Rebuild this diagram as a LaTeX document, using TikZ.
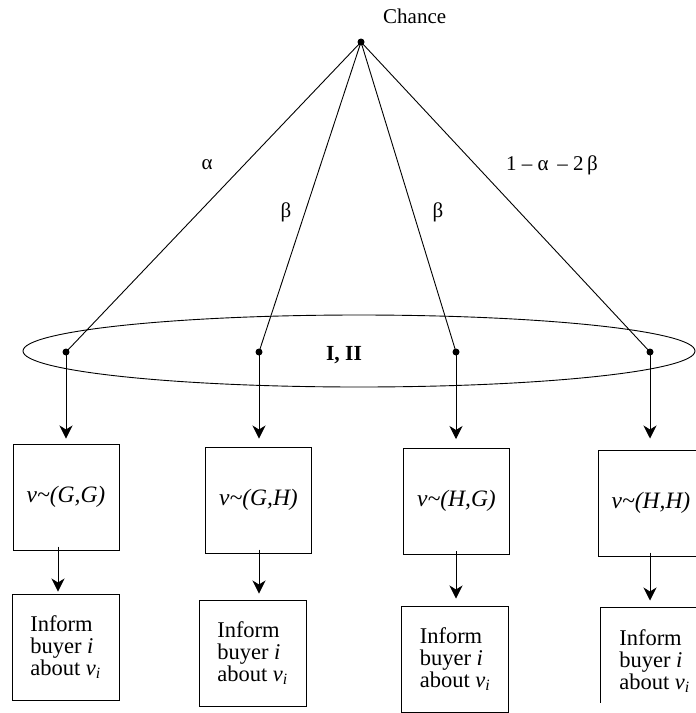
\documentclass[tikz,border=0pt]{standalone}
\usepackage{fontspec}
\setmainfont{Liberation Serif}
\usetikzlibrary{arrows.meta,shapes.geometric}
\begin{document}
\begin{tikzpicture}[x=1pt,y=-1pt,
  every node/.style={font=\fontsize{21}{25}\selectfont},
  dot/.style={circle,fill=black,inner sep=0pt,minimum size=7pt},
  line/.style={line width=0.9pt},
  arr/.style={line width=0.9pt,-{Stealth[length=13pt,width=13pt,inset=4pt]}},
  vbox/.style={draw,line width=1pt,minimum width=106pt,minimum height=106pt,inner sep=0pt,
    text depth=6pt,font=\fontsize{23.5}{26}\selectfont\itshape},
  ibox/.style={draw,line width=1pt,minimum width=107pt,minimum height=106pt,inner sep=0pt,
    align=left,font=\fontsize{22.5}{22}\selectfont},
  lab/.style={inner sep=0pt}
]
\useasboundingbox (0,0) rectangle (696,713);

% chance node
\node[dot] (c) at (361,42) {};
\node[lab,anchor=west] (chance) at (383,16) {Chance};

% information set
\node[draw,ellipse,line width=0.9pt,minimum width=672pt,minimum height=72pt,inner sep=0pt] (info) at (359,351) {};
\node[lab,font=\fontsize{21.5}{25}\selectfont\bfseries] (pl) at (344,355) {I, II};

% decision points
\node[dot] (d1) at (66,352) {};
\node[dot] (d2) at (259,352) {};
\node[dot] (d3) at (456,352) {};
\node[dot] (d4) at (650,352) {};

\draw[line] (c.center) -- (d1.center);
\draw[line] (c.center) -- (d2.center);
\draw[line] (c.center) -- (d3.center);
\draw[line] (c.center) -- (d4.center);

% probabilities
\node[lab] (pa) at (207,165) {α};
\node[lab] (pb1) at (286,212) {β};
\node[lab] (pb2) at (438,212) {β};
\node[lab] (pr) at (552,165) {1 – α \,– 2\,β};

% value boxes
\node[vbox] (v1) at (66,497) {v\textasciitilde(G,G)};
\node[vbox] (v2) at (258.5,500) {v\textasciitilde(G,H)};
\node[vbox] (v3) at (456.5,501.5) {v\textasciitilde(H,G)};
\node[vbox] (v4) at (651,503) {v\textasciitilde(H,H)};

\draw[arr,shorten >=5pt] (d1.center) -- (d1.center |- v1.north);
\draw[arr,shorten >=8pt] (d2.center) -- (d2.center |- v2.north);
\draw[arr,shorten >=9pt] (d3.center) -- (d3.center |- v3.north);
\draw[arr,shorten >=11pt] (d4.center) -- (d4.center |- v4.north);

% inform boxes
\node[ibox] (i1) at (65.5,647) {Inform\\buyer \textit{i}\\about \textit{v}\textsubscript{\textit{i}}};
\node[ibox] (i2) at (252.5,653) {Inform\\buyer \textit{i}\\about \textit{v}\textsubscript{\textit{i}}};
\node[ibox] (i3) at (455,659) {Inform\\buyer \textit{i}\\about \textit{v}\textsubscript{\textit{i}}};
\node[ibox,draw=none] (i4) at (654.5,661) {Inform\\buyer \textit{i}\\about \textit{v}\textsubscript{\textit{i}}};
\draw[line width=1pt] (i4.north east) -- (i4.north west) -- (i4.west |- 0,703);

\coordinate (s1) at ([xshift=-8pt,yshift=4pt]v1.south);
\coordinate (s2) at ([xshift=0.5pt,yshift=4pt]v2.south);
\coordinate (s3) at ([xshift=-0.5pt,yshift=4pt]v3.south);
\coordinate (s4) at ([xshift=-1pt,yshift=4pt]v4.south);
\draw[arr,shorten >=2pt] (s1) -- (s1 |- i1.north);
\draw[arr,shorten >=6pt] (s2) -- (s2 |- i2.north);
\draw[arr,shorten >=7pt] (s3) -- (s3 |- i3.north);
\draw[arr,shorten >=7pt] (s4) -- (s4 |- i4.north);
\end{tikzpicture}
\end{document}
